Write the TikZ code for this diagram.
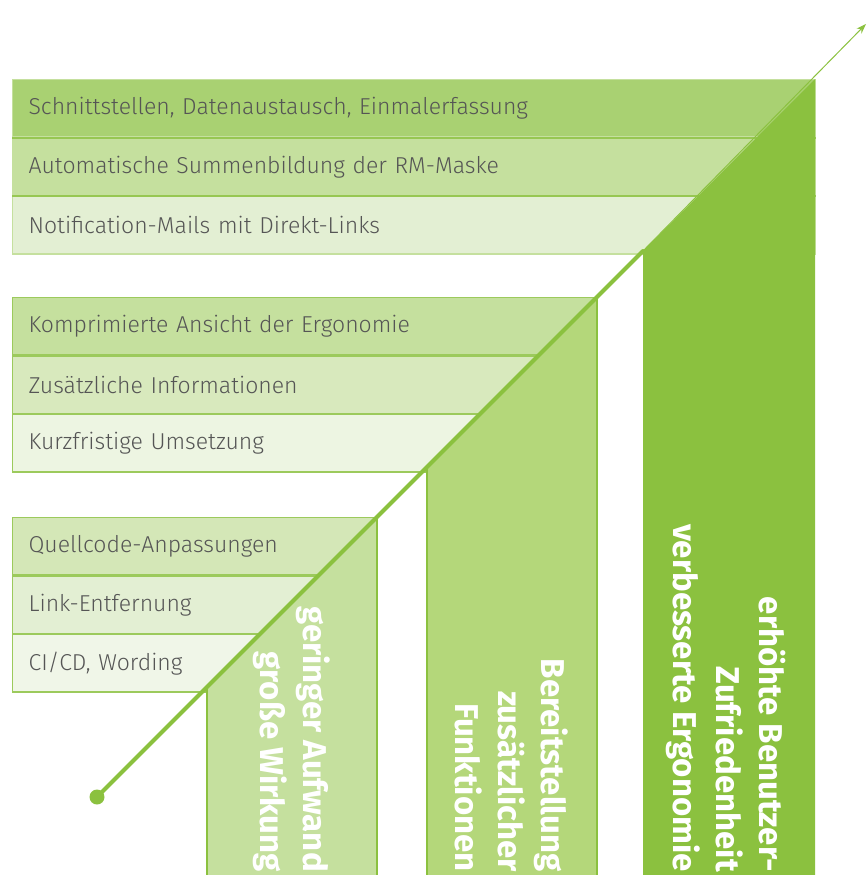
\documentclass[tikz,border=0pt]{standalone}
\usepackage{fontspec}
\usepackage{xcolor}
\usepackage{tikz}
\usetikzlibrary{arrows.meta}
\newfontfamily\rowfont{Fira Sans Light}
\newfontfamily\colfont{Fira Sans}
\definecolor{leaf}{HTML}{8BC13F}
\definecolor{leafA}{HTML}{A9D172}
\definecolor{leafB}{HTML}{C5E09E}
\definecolor{leafC}{HTML}{E3EFD3}
\definecolor{leafD}{HTML}{B4D77A}
\definecolor{leafE}{HTML}{D8E9BD}
\definecolor{leafF}{HTML}{EDF5E2}
\definecolor{leafG}{HTML}{D4E7B7}
\definecolor{leafH}{HTML}{F0F6E8}
\definecolor{ink}{HTML}{555555}
\tikzset{
  rowbox/.style={draw=leaf!85, line width=1.2pt, anchor=north west,
    minimum height=57.3pt, inner xsep=16pt, align=left,
    text=ink, font=\rowfont\fontsize{23}{26}\selectfont},
  sepline/.style={draw=leaf!90, line width=2pt},
  colbar/.style={draw=leaf, line width=1.2pt},
  coltext/.style={text=white, font=\colfont\bfseries\fontsize{33}{43}\selectfont,
    rotate=-90, align=right, anchor=north east, inner sep=0pt},
  growth/.style={draw=leaf, line cap=round},
  dot/.style={circle, fill=leaf, inner sep=0pt, minimum size=15pt}
}
\begin{document}
\begin{tikzpicture}[x=1pt, y=-1pt]
  \useasboundingbox (0,0) rectangle (867,875);

  % top level
  \node[rowbox, draw=leafB, fill=leafA, text width=771pt] (r11) at (12,79) {Schnittstellen, Datenaustausch, Einmalerfassung};
  \node[rowbox, draw=leafB, fill=leafB, text width=771pt] (r12) at (r11.south west) {Automatische Summenbildung der RM-Maske};
  \node[rowbox, draw=leafB, fill=leafC, text width=771pt] (r13) at (r12.south west) {Notification-Mails mit Direkt-Links};
  \draw[sepline] (r11.south west) -- (r11.south east);
  \draw[sepline] (r12.south west) -- (r12.south east);

  % middle level
  \node[rowbox, fill=leafB, text width=553pt] (r21) at (12,297) {Komprimierte Ansicht der Ergonomie};
  \node[rowbox, fill=leafE, text width=553pt] (r22) at (r21.south west) {Zusätzliche Informationen};
  \node[rowbox, fill=leafF, text width=553pt] (r23) at (r22.south west) {Kurzfristige Umsetzung};

  % lower level
  \node[rowbox, fill=leafG, text width=333pt] (r31) at (12,517) {Quellcode-Anpassungen};
  \node[rowbox, fill=leafC, text width=333pt] (r32) at (r31.south west) {Link-Entfernung};
  \node[rowbox, fill=leafH, text width=333pt] (r33) at (r32.south west) {CI/CD, Wording};

  % bars
  \fill[leafB] (207,880) -- (207,687) -- (377,517) -- (377,880) -- cycle;
  \draw[colbar] (207,880) -- (207,687) (377,517) -- (377,880);
  \fill[leafD] (427,880) -- (427,467) -- (597,297) -- (597,880) -- cycle;
  \draw[colbar] (427,880) -- (427,467) (597,297) -- (597,880);
  \fill[leaf] (643,880) -- (643,251) -- (815,79) -- (815,880) -- cycle;

  \node[coltext] (c1) at (330,872) {geringer Aufwand\\große Wirkung};
  \node[coltext] (c2) at (568,872) {Bereitstellung\\zusätzlicher\\Funktionen};
  \node[coltext] (c3) at (786,872) {erhöhte Benutzer-\\Zufriedenheit\\verbesserte Ergonomie};

  % growth arrow
  \node[dot] (start) at (97,797) {};
  \coordinate (bend) at (643,251);
  \coordinate (tip) at (866,24);
  \draw[growth, line width=4pt] (start.center) -- (bend);
  \draw[growth, line width=1pt, -{Stealth[length=10pt, width=7pt]}] (bend) -- (tip);
\end{tikzpicture}
\end{document}
